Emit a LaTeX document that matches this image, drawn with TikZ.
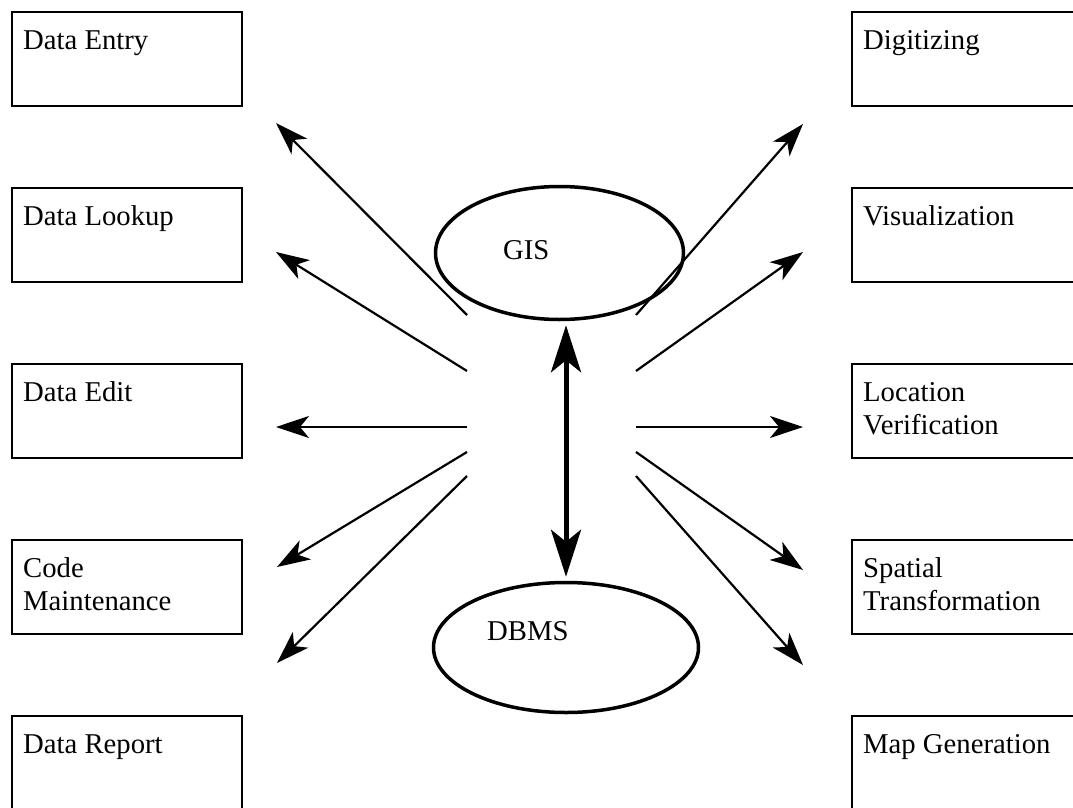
\documentclass[tikz,border=0pt]{standalone}
\usepackage{fontspec}
\setmainfont{Liberation Serif}
\usetikzlibrary{arrows.meta,shapes.geometric}
\begin{document}
\begin{tikzpicture}[x=1pt,y=-1pt,
  boxnode/.style={draw, line width=2.5pt, rectangle, minimum width=230pt, minimum height=94pt, anchor=north west, inner sep=0pt, outer sep=0pt},
  txt/.style={font=\fontsize{28.7}{33}\selectfont, anchor=base west, inner sep=0pt},
  ell/.style={draw, ellipse, line width=3.5pt, inner sep=0pt},
  thinarrow/.style={line width=2.2pt, -{Stealth[length=33pt,width=22pt,inset=9pt]}},
  thickarrow/.style={line width=5pt, {Stealth[length=47pt,width=30pt,inset=12pt]}-{Stealth[length=47pt,width=30pt,inset=12pt]}}
]
\useasboundingbox (0,0) rectangle (1073,808);
\clip (0,0) rectangle (1073,808);
\fill[white] (0,0) rectangle (1073,808);

% left boxes
\node[boxnode] (entry)  at (12,12)  {};
\node[boxnode] (lookup) at (12,188) {};
\node[boxnode] (edit)   at (12,364) {};
\node[boxnode] (code)   at (12,540) {};
\node[boxnode] (report) at (12,716) {};
% right boxes
\node[boxnode] (digit)  at (852,12)  {};
\node[boxnode] (visual) at (852,188) {};
\node[boxnode] (locver) at (852,364) {};
\node[boxnode] (spatial) at (852,540) {};
\node[boxnode] (mapgen) at (852,716) {};

% texts
\node[txt] (tentry)  at ([xshift=11pt,yshift=-37pt]entry.north west)  {Data Entry};
\node[txt] (tlookup) at ([xshift=11pt,yshift=-37pt]lookup.north west) {Data Lookup};
\node[txt] (tedit)   at ([xshift=11pt,yshift=-37pt]edit.north west)   {Data Edit};
\node[txt] (tcode)   at ([xshift=11pt,yshift=-37pt]code.north west)   {\parbox[t]{220pt}{Code\\Maintenance}};
\node[txt] (treport) at ([xshift=11pt,yshift=-37pt]report.north west) {Data Report};
\node[txt] (tdigit)  at ([xshift=11pt,yshift=-37pt]digit.north west)  {Digitizing};
\node[txt] (tvisual) at ([xshift=11pt,yshift=-37pt]visual.north west) {Visualization};
\node[txt] (tlocver) at ([xshift=11pt,yshift=-37pt]locver.north west) {\parbox[t]{220pt}{Location\\Verification}};
\node[txt] (tspatial) at ([xshift=11pt,yshift=-37pt]spatial.north west) {\parbox[t]{220pt}{Spatial\\Transformation}};
\node[txt] (tmapgen) at ([xshift=11pt,yshift=-37pt]mapgen.north west) {Map Generation};

% ellipses
\node[ell, minimum width=248pt, minimum height=133pt] (gis) at (559.5,253) {};
\node[ell, minimum width=265pt, minimum height=130pt] (dbms) at (566,647.5) {};
\node[txt] (tgis) at (503,259) {GIS};
\node[txt] (tdbms) at (487,640) {DBMS};

% arrow coordinates
\coordinate (sl1) at (467,315); \coordinate (el1) at (276,123);
\coordinate (sl2) at (467,371); \coordinate (el2) at (276,252);
\coordinate (sl3) at (467,427); \coordinate (el3) at (276,427);
\coordinate (sl4) at (467,452); \coordinate (el4) at (277,567);
\coordinate (sl5) at (467,476); \coordinate (el5) at (277,663);
\coordinate (sr1) at (636,315); \coordinate (er1) at (803,124);
\coordinate (sr2) at (636,371); \coordinate (er2) at (803,252);
\coordinate (sr3) at (636,427); \coordinate (er3) at (803,427);
\coordinate (sr4) at (636,452); \coordinate (er4) at (803,570);
\coordinate (sr5) at (636,476); \coordinate (er5) at (803,665);

\foreach \i in {1,...,5} {
  \draw[thinarrow] (sl\i) -- (el\i);
  \draw[thinarrow] (sr\i) -- (er\i);
}

\draw[thickarrow, shorten <=4pt, shorten >=4pt] (gis.south -| dbms.north) -- (dbms.north);
\end{tikzpicture}
\end{document}
